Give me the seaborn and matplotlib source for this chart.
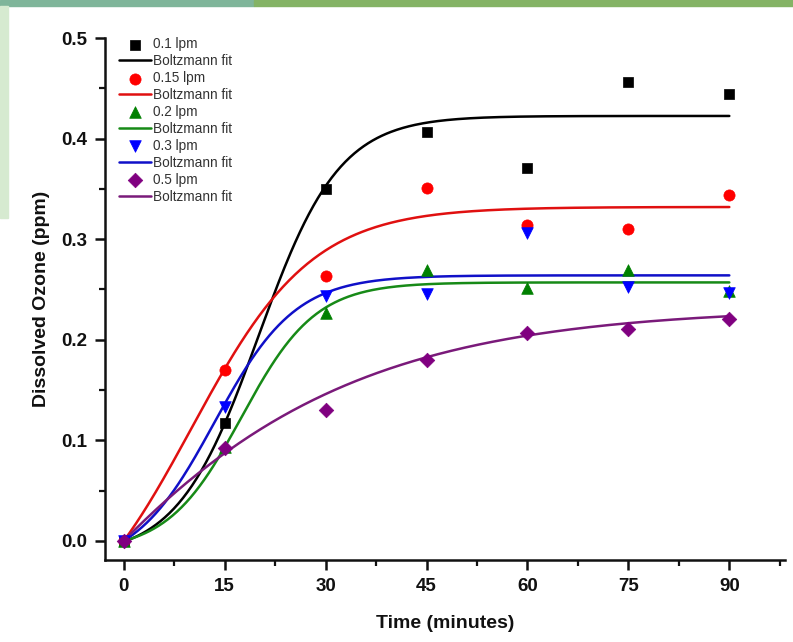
import numpy as np
import pandas as pd
import matplotlib
matplotlib.use("Agg")
import matplotlib.pyplot as plt
from matplotlib.ticker import MultipleLocator, FormatStrFormatter
from matplotlib.patches import Rectangle
import seaborn as sns

# Sampling times (minutes)
time_min = [0, 15, 30, 45, 60, 75, 90]

# Measured dissolved ozone (ppm) per gas flow rate
ozone_01 = [0.0, 0.117, 0.350, 0.407, 0.371, 0.456, 0.444]
ozone_015 = [0.0, 0.170, 0.263, 0.351, 0.314, 0.310, 0.344]
ozone_02 = [0.0, 0.093, 0.227, 0.269, 0.251, 0.269, 0.248]
ozone_03 = [0.0, 0.133, 0.243, 0.2455, 0.306, 0.252, 0.246]
ozone_05 = [0.0, 0.092, 0.130, 0.180, 0.207, 0.211, 0.221]

flow_labels = ["0.1 lpm", "0.15 lpm", "0.2 lpm", "0.3 lpm", "0.5 lpm"]

# Boltzmann fit parameters: A1, A2, x0, dx
fit_01 = [-0.0160, 0.4225, 20.0, 6.0]
fit_015 = [-0.1093, 0.332, 10.0, 9.0]
fit_02 = [-0.0107, 0.257, 17.5, 5.5]
fit_03 = [-0.0277, 0.264, 13.5, 6.0]
fit_05 = [-0.630, 0.232, -25.0, 25.0]

series = [ozone_01, ozone_015, ozone_02, ozone_03, ozone_05]
fits = [fit_01, fit_015, fit_02, fit_03, fit_05]
colors = ["#000000", "#ff0000", "#008000", "#0000ff", "#800080"]
line_colors = ["#000000", "#e01010", "#178a17", "#1010c8", "#7a1a7a"]
markers = ["s", "o", "^", "v", "D"]
msizes = [55, 65, 70, 70, 55]


def boltzmann(x, a1, a2, x0, dx):
    return a2 + (a1 - a2) / (1.0 + np.exp((x - x0) / dx))


sns.set_theme(style="ticks")
plt.rcParams["font.family"] = ["Liberation Sans", "DejaVu Sans"]

fig = plt.figure(figsize=(7.93, 6.42), dpi=100)
ax = fig.add_axes([0.1324, 0.1277, 0.8577, 0.8131])

t_fine = np.linspace(0, 90, 400)
for vals, p, c, lc, m, s, lab in zip(series, fits, colors, line_colors,
                                      markers, msizes, flow_labels):
    pts = pd.DataFrame({"t": time_min, "y": vals})
    sns.scatterplot(data=pts, x="t", y="y", marker=m, color=c, s=s,
                    edgecolor=c, linewidth=0.5, label=lab, ax=ax, zorder=5)
    curve = pd.DataFrame({"t": t_fine, "y": boltzmann(t_fine, *p)})
    sns.lineplot(data=curve, x="t", y="y", color=lc, linewidth=1.8,
                 label="Boltzmann fit", ax=ax, zorder=3)

ax.set_xlim(-2.8, 98.3)
ax.set_ylim(-0.019, 0.5)
ax.set_xticks(time_min)
ax.xaxis.set_minor_locator(MultipleLocator(7.5))
ax.set_yticks([0.0, 0.1, 0.2, 0.3, 0.4, 0.5])
ax.yaxis.set_minor_locator(MultipleLocator(0.05))
ax.yaxis.set_major_formatter(FormatStrFormatter("%.1f"))

for side in ("top", "right"):
    ax.spines[side].set_visible(False)
for side in ("left", "bottom"):
    ax.spines[side].set_linewidth(1.8)
    ax.spines[side].set_color("#111111")

ax.tick_params(axis="both", which="major", direction="out", length=7,
               width=1.8, color="#111111", labelsize=13.5, pad=6)
ax.tick_params(axis="both", which="minor", direction="out", length=4,
               width=1.6, color="#111111")
for lbl in ax.get_xticklabels() + ax.get_yticklabels():
    lbl.set_fontweight("bold")
    lbl.set_color("#111111")

ax.set_xlabel("Time (minutes)", fontsize=14, fontweight="bold",
              color="#111111", labelpad=14)
ax.set_ylabel("Dissolved Ozone (ppm)", fontsize=14, fontweight="bold",
              color="#111111", labelpad=8)

leg = ax.legend(loc="upper left", bbox_to_anchor=(0.006, 1.02), frameon=False,
                fontsize=9.8, handlelength=2.4, handletextpad=0.1,
                labelspacing=0.22, borderaxespad=0.3)
for txt in leg.get_texts():
    txt.set_color("#333333")

# slide decorations: top banner and left edge strip
fig.patches.append(Rectangle((0.0, 0.99), 0.32, 0.01, transform=fig.transFigure,
                             color="#7fb59a", zorder=0))
fig.patches.append(Rectangle((0.32, 0.99), 0.68, 0.01, transform=fig.transFigure,
                             color="#84b365", zorder=0))
fig.patches.append(Rectangle((0.0, 0.66), 0.01, 0.33, transform=fig.transFigure,
                             color="#d6ead0", zorder=0))

fig.savefig("out.png", dpi=100)
